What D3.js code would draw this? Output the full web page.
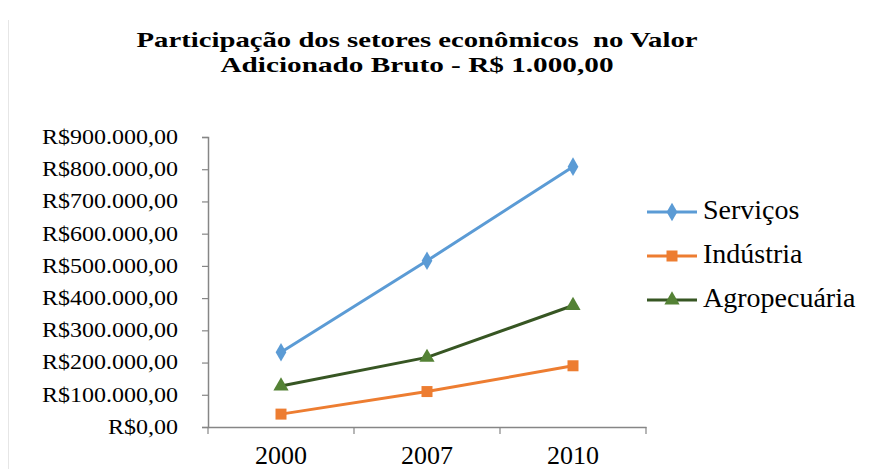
<!DOCTYPE html>
<html><head><meta charset="utf-8">
<script src="https://cdn.jsdelivr.net/npm/d3@7"></script>
<style>html,body{margin:0;padding:0;background:#fff;}svg{display:block;}</style>
</head><body>
<svg id="c" width="886" height="469"></svg>
<script>
const categories = ["2000", "2007", "2010"];
const seriesNames = ["Serviços", "Indústria", "Agropecuária"];
const servicos = [232000, 516000, 808000];
const industria = [40000, 110000, 190000];
const agropecuaria = [127000, 216000, 377000];
const yTicks = [0, 100000, 200000, 300000, 400000, 500000, 600000, 700000, 800000, 900000];
const titleLines = ["Participação dos setores econômicos  no Valor", "Adicionado Bruto - R$ 1.000,00"];

const series = [
  {name: seriesNames[0], values: servicos, line: "#5B9BD5", fill: "#5B9BD5", sym: d3.symbolDiamond, size: 100},
  {name: seriesNames[1], values: industria, line: "#ED7D31", fill: "#ED7D31", sym: d3.symbolSquare, size: 121},
  {name: seriesNames[2], values: agropecuaria, line: "#375623", fill: "#548235", sym: d3.symbolTriangle, size: 100}
];

const svg = d3.select("#c");
const font = "Liberation Serif, Tinos, Times New Roman, DejaVu Serif, serif";

// faint left border
svg.append("line").attr("x1", 8.5).attr("x2", 8.5).attr("y1", 20).attr("y2", 469)
  .attr("stroke", "#e6e6e6").attr("stroke-width", 1);

const x = d3.scaleBand().domain(categories).range([208, 646]);
const y = d3.scaleLinear().domain([0, 900000]).range([427, 137]);

// title
const titleW = [561, 393];
svg.append("g").selectAll("text").data(titleLines).join("text")
  .attr("x", 417).attr("y", (d, i) => 47 + i * 25)
  .attr("text-anchor", "middle").attr("font-family", font).attr("font-weight", "bold")
  .attr("font-size", 22).attr("fill", "#000")
  .attr("textLength", (d, i) => titleW[i]).attr("lengthAdjust", "spacingAndGlyphs")
  .attr("xml:space", "preserve").text(d => d);

// y axis
const sx = 1.2;
const fmt = v => "R$" + (v === 0 ? "0,00" : d3.format(",")(v).replace(/,/g, ".") + ",00");
const yAxis = svg.append("g").attr("transform", "translate(208,0)")
  .call(d3.axisLeft(y).tickValues(yTicks).tickSize(6).tickFormat(fmt));
yAxis.attr("font-family", font);
yAxis.select(".domain").attr("stroke", "#868686").attr("stroke-width", 1.5);
yAxis.selectAll(".tick line").attr("stroke", "#868686").attr("stroke-width", 1.2);
yAxis.selectAll("text").attr("font-family", font).attr("font-size", 20).attr("fill", "#000")
  .attr("x", -30 / sx).attr("transform", `scale(${sx},1)`);

// x axis
const xAxis = svg.append("g").attr("transform", "translate(0,427)")
  .call(d3.axisBottom(x).tickSize(0).tickPadding(0));
xAxis.attr("font-family", font);
xAxis.select(".domain").attr("stroke", "#868686").attr("stroke-width", 1.5);
xAxis.selectAll(".tick text").attr("font-family", font).attr("font-size", 26).attr("fill", "#000")
  .attr("dy", 0).attr("y", 37);
const bounds = [208].concat(categories.map(c => x(c) + x.bandwidth()));
svg.append("g").selectAll("line").data(bounds).join("line")
  .attr("x1", d => d).attr("x2", d => d).attr("y1", 427).attr("y2", 434)
  .attr("stroke", "#868686").attr("stroke-width", 1.2);

const cx = c => x(c) + x.bandwidth() / 2;
const lineGen = d3.line().x((d, i) => cx(categories[i])).y(d => y(d));

series.forEach(s => {
  const g = svg.append("g");
  g.append("path").datum(s.values).attr("d", lineGen).attr("fill", "none")
    .attr("stroke", s.line).attr("stroke-width", 3).attr("stroke-linejoin", "round");
  g.selectAll("path.m").data(s.values).join("path").attr("class", "m")
    .attr("transform", (d, i) => `translate(${cx(categories[i])},${y(d)})`)
    .attr("d", d3.symbol().type(s.sym).size(s.size)).attr("fill", s.fill);
});

// legend
const lg = svg.append("g").selectAll("g").data(series).join("g")
  .attr("transform", (d, i) => `translate(647,${212 + i * 44})`);
lg.append("line").attr("x1", 0).attr("x2", 50).attr("stroke", d => d.line).attr("stroke-width", 3);
lg.append("path").attr("transform", "translate(25,0)")
  .attr("d", d => d3.symbol().type(d.sym).size(d.size)()).attr("fill", d => d.fill);
lg.append("text").attr("x", 56).attr("y", 6.5).attr("font-family", font).attr("font-size", 28)
  .attr("fill", "#000").text(d => d.name);
</script>
</body></html>
